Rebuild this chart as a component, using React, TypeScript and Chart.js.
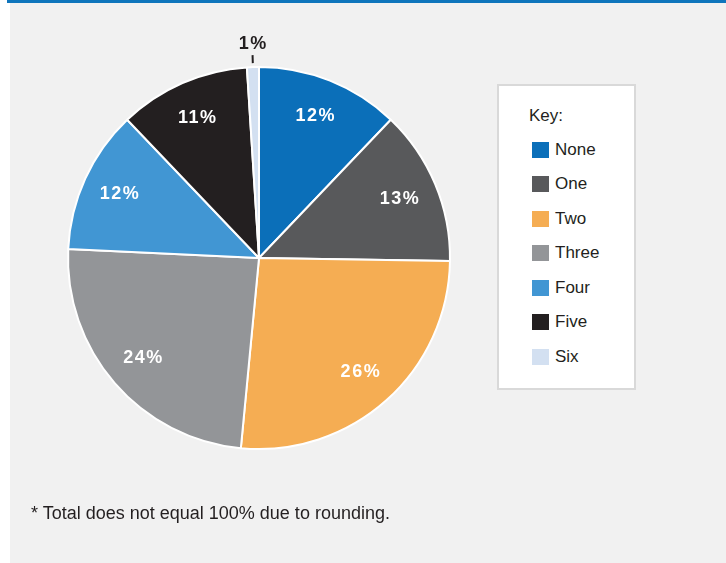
import React, { useEffect, useRef } from "react";
import { Chart, registerables } from "chart.js";

Chart.register(...registerables);

const categories = ["None", "One", "Two", "Three", "Four", "Five", "Six"];
const values = [12, 13, 26, 24, 12, 11, 1];
const colors = ["#0b6fb9", "#58595b", "#f5ad53", "#939598", "#4196d3", "#231f20", "#d3e0f1"];
const keyTitle = "Key:";
const footnote = "* Total does not equal 100% due to rounding.";

const FONT = "'Liberation Sans', Arial, Helvetica, sans-serif";

const labelPlugin = {
  id: "sliceLabels",
  afterDatasetsDraw(chart: any) {
    const ctx = chart.ctx;
    const meta = chart.getDatasetMeta(0);
    ctx.save();
    ctx.textAlign = "center";
    ctx.textBaseline = "middle";
    (ctx as any).letterSpacing = "1.5px";
    meta.data.forEach((arc: any, i: number) => {
      const p = arc.getProps(["x", "y", "startAngle", "endAngle", "outerRadius"], true);
      const mid = (p.startAngle + p.endAngle) / 2;
      const v = values[i];
      const text = v + "%";
      ctx.font = "bold 18px " + FONT;
      if (v < 3) {
        const r1 = p.outerRadius + 4;
        const r2 = p.outerRadius + 12;
        ctx.strokeStyle = "#231f20";
        ctx.lineWidth = 2;
        ctx.beginPath();
        ctx.moveTo(p.x + Math.cos(mid) * r1, p.y + Math.sin(mid) * r1);
        ctx.lineTo(p.x + Math.cos(mid) * r2, p.y + Math.sin(mid) * r2);
        ctx.stroke();
        const rl = p.outerRadius + 23;
        ctx.fillStyle = "#231f20";
        ctx.fillText(text, p.x + Math.cos(mid) * rl + 1, p.y + Math.sin(mid) * rl);
      } else {
        const rl = p.outerRadius * 0.8;
        ctx.fillStyle = "#ffffff";
        ctx.fillText(text, p.x + Math.cos(mid) * rl, p.y + Math.sin(mid) * rl);
      }
    });
    ctx.restore();
  },
};

export default function App() {
  const ref = useRef<HTMLCanvasElement>(null);
  useEffect(() => {
    if (!ref.current) return;
    const chart = new Chart(ref.current, {
      type: "pie",
      data: {
        labels: categories,
        datasets: [
          {
            data: values,
            backgroundColor: colors,
            borderColor: "#ffffff",
            borderWidth: 2,
          },
        ],
      },
      options: {
        animation: false,
        responsive: false,
        maintainAspectRatio: false,
        layout: { padding: { left: 67, right: 275, top: 66, bottom: 113 } },
        plugins: {
          legend: { display: false },
          tooltip: { enabled: false },
        },
      },
      plugins: [labelPlugin],
    });
    return () => chart.destroy();
  }, []);

  return (
    <div style={{ position: "absolute", left: 0, top: 0, width: 726, height: 563, background: "#ffffff", overflow: "hidden", fontFamily: FONT }}>
      <div style={{ position: "absolute", left: 10, top: 0, width: 716, height: 563, background: "#f1f1f1" }} />
      <div style={{ position: "absolute", left: 7, top: 0, width: 719, height: 3, background: "#0f75bc" }} />
      <canvas ref={ref} width={726} height={563} style={{ position: "absolute", left: 0, top: 0, width: 726, height: 563 }} />
      <div
        style={{
          position: "absolute",
          left: 497,
          top: 84,
          width: 139,
          height: 306,
          boxSizing: "border-box",
          background: "#ffffff",
          border: "2px solid #d9d9d9",
        }}
      >
        <div style={{ position: "absolute", left: 30, top: 19.5, lineHeight: "20px", fontSize: 17, color: "#231f20" }}>{keyTitle}</div>
        {categories.map((c, i) => (
          <div key={c} style={{ position: "absolute", left: 33, top: 53.5 + 34.5 * i, height: 20, display: "flex", alignItems: "center" }}>
            <div style={{ width: 17, height: 16, background: colors[i] }} />
            <div style={{ marginLeft: 6, fontSize: 17, lineHeight: "20px", color: "#231f20" }}>{c}</div>
          </div>
        ))}
      </div>
      <div style={{ position: "absolute", left: 31, top: 503, fontSize: 18, lineHeight: "20px", color: "#231f20", whiteSpace: "nowrap" }}>{footnote}</div>
    </div>
  );
}
